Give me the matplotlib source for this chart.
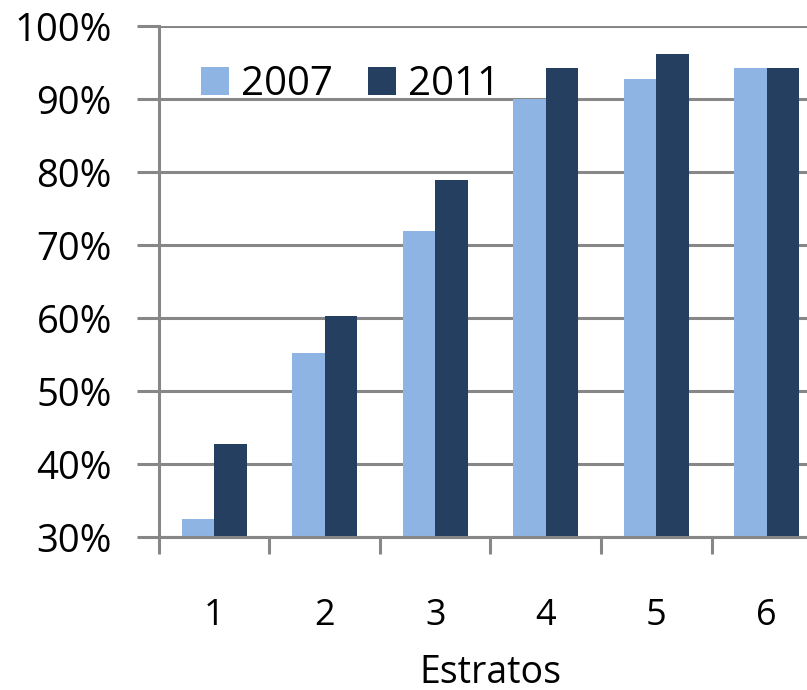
import matplotlib
matplotlib.use("Agg")
import matplotlib.pyplot as plt
import numpy as np

categories = ["1", "2", "3", "4", "5", "6"]
series_2007 = [32.5, 55.2, 71.9, 90.0, 92.8, 94.2]
series_2011 = [42.7, 60.3, 78.9, 94.2, 96.1, 94.2]
yticks = [30, 40, 50, 60, 70, 80, 90, 100]
ytick_labels = ["30%", "40%", "50%", "60%", "70%", "80%", "90%", "100%"]

plt.rcParams['font.family'] = ['Open Sans', 'DejaVu Sans']

fig = plt.figure(figsize=(8.07, 6.9), dpi=100)
ax = fig.add_axes([0.197, 0.2217, 0.8216, 0.7406])

x = np.arange(len(categories))
w = 0.295
c1 = "#8EB4E3"
c2 = "#243F60"
ax.bar(x - w/2, series_2007, width=w, color=c1, label="2007", zorder=3)
ax.bar(x + w/2, series_2011, width=w, color=c2, label="2011", zorder=3)

ax.set_xlim(-0.5, len(categories) - 0.5)
ax.set_ylim(30, 100)
ax.set_yticks(yticks)
ax.set_yticklabels(ytick_labels, fontsize=27.5)
ax.grid(axis='y', color='#878787', linewidth=2.2, zorder=0)

ax.set_xticks(x)
ax.set_xticklabels(categories, fontsize=26)
ax.set_xticks(np.arange(-0.5, len(categories) + 0.5, 1), minor=True)
ax.tick_params(axis='x', which='major', length=0, pad=44)
ax.tick_params(axis='x', which='minor', length=12, width=2.2, color='#878787', direction='out')
ax.tick_params(axis='y', length=16, width=2.2, color='#878787', direction='out', pad=18)

for s in ['top', 'right']:
    ax.spines[s].set_visible(False)
for s in ['left', 'bottom']:
    ax.spines[s].set_color('#878787')
    ax.spines[s].set_linewidth(2.2)
    ax.spines[s].set_zorder(4)

ax.set_xlabel("Estratos", fontsize=27, labelpad=14)

leg = ax.legend(loc='upper left', bbox_to_anchor=(0.009, 0.995), ncol=2, frameon=False,
                fontsize=29, handlelength=0.7, handleheight=0.7, handletextpad=0.3,
                columnspacing=0.85)

fig.savefig("out.png", dpi=100)
